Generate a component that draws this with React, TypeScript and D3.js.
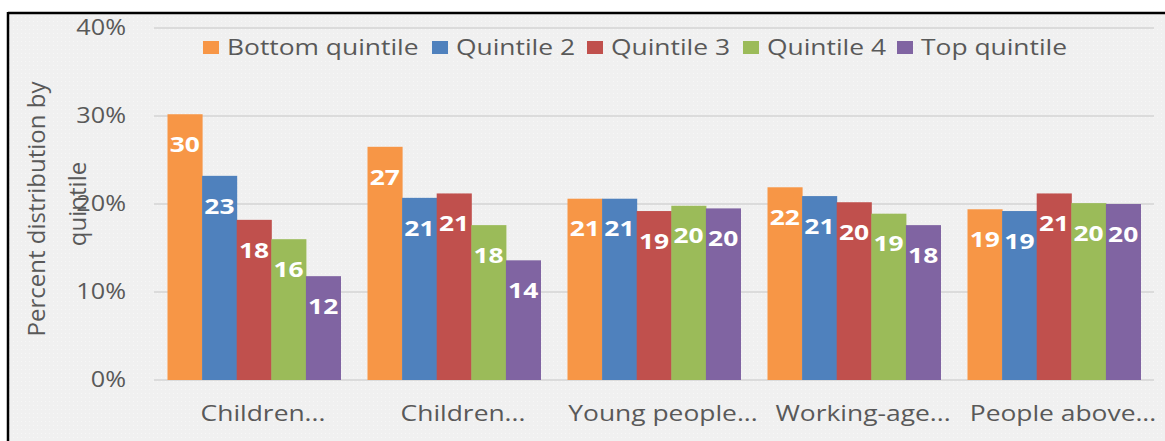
import React from "react";
import * as d3 from "d3";

const categories = ["Children...", "Children...", "Young people...", "Working-age...", "People above..."];
const seriesNames = ["Bottom quintile", "Quintile 2", "Quintile 3", "Quintile 4", "Top quintile"];
const seriesColors = ["#F79646", "#4F81BD", "#C0504D", "#9BBB59", "#8064A2"];
const bottomQuintile = [30.2, 26.5, 20.6, 21.9, 19.4];
const quintile2 = [23.2, 20.7, 20.6, 20.9, 19.2];
const quintile3 = [18.2, 21.2, 19.2, 20.2, 21.2];
const quintile4 = [16.0, 17.6, 19.8, 18.9, 20.1];
const topQuintile = [11.8, 13.6, 19.5, 17.6, 20.0];
const seriesValues = [bottomQuintile, quintile2, quintile3, quintile4, topQuintile];
const yTicks = [0, 10, 20, 30, 40];

const W = 1165;
const H = 441;
const FONT = "'Open Sans', 'Liberation Sans', sans-serif";
const TEXT = "#595959";
const SX = 1.2; // horizontal stretch of the reference image

function SText(props: { x: number; y: number; anchor?: string; size: number; fill: string; bold?: boolean; children: React.ReactNode }) {
  const { x, y, anchor = "start", size, fill, bold, children } = props;
  return (
    <g transform={`translate(${x},${y}) scale(${SX},1)`}>
      <text x={0} y={0} dy="0.35em" textAnchor={anchor as any} fontSize={size} fontWeight={bold ? "bold" : "normal"} fill={fill}>
        {children}
      </text>
    </g>
  );
}

export default function App() {
  const x0 = d3
    .scaleBand<string>()
    .domain(categories.map((_, i) => String(i)))
    .range([154, 1154])
    .paddingInner(0.135)
    .paddingOuter(0.0675);
  const x1 = d3.scaleBand<string>().domain(seriesNames).range([0, x0.bandwidth()]);
  const y = d3.scaleLinear().domain([0, 40]).range([380, 28]);

  const legendX = [203, 432, 587, 743, 897];

  return (
    <svg width={W} height={H} style={{ position: "absolute", left: 0, top: 0, display: "block" }} fontFamily={FONT}>
      <defs>
        <pattern id="dots" width="4" height="4" patternUnits="userSpaceOnUse">
          <rect width="4" height="4" fill="#f0f0f0" />
          <rect x="1" y="1" width="1" height="1" fill="#f7f7f7" />
        </pattern>
      </defs>
      <rect x={0} y={0} width={W} height={H} fill="#ffffff" />
      <rect x={8} y={13} width={W - 8} height={H - 13} fill="url(#dots)" />
      <line x1={8} x2={W} y1={13} y2={13} stroke="#000" strokeWidth={2.5} />
      <line x1={8} x2={8} y1={12} y2={H} stroke="#000" strokeWidth={2.5} />

      {yTicks.map((t) => (
        <g key={t}>
          <line x1={154} x2={1154} y1={y(t)} y2={y(t)} stroke="#d4d4d4" strokeWidth={1.3} />
          <SText x={126} y={y(t)} anchor="end" size={21} fill={TEXT}>
            {t}%
          </SText>
        </g>
      ))}

      {categories.map((c, ci) => (
        <g key={ci} transform={`translate(${x0(String(ci))},0)`}>
          {seriesNames.map((s, si) => {
            const v = seriesValues[si][ci];
            const bx = x1(s)!;
            const bw = x1.bandwidth();
            return (
              <g key={s}>
                <rect x={bx} y={y(v)} width={bw + 0.5} height={y(0) - y(v)} fill={seriesColors[si]} />
                <SText x={bx + bw / 2} y={y(v) + 30} anchor="middle" size={22} bold fill="#ffffff">
                  {Math.round(v)}
                </SText>
              </g>
            );
          })}
          <SText x={x0.bandwidth() / 2 + 9} y={413} anchor="middle" size={22} fill={TEXT}>
            {c}
          </SText>
        </g>
      ))}

      {seriesNames.map((s, si) => (
        <g key={s}>
          <rect x={legendX[si]} y={41} width={16} height={13} fill={seriesColors[si]} />
          <SText x={legendX[si] + 24} y={47} size={22} fill={TEXT}>
            {s}
          </SText>
        </g>
      ))}

      <g transform="translate(45,209) rotate(-90)">
        <text x={0} y={0} textAnchor="middle" fontSize={24} fill={TEXT}>
          Percent distribution by
        </text>
      </g>
      <g transform="translate(86,204) rotate(-90)">
        <text x={0} y={0} textAnchor="middle" fontSize={24} fill={TEXT}>
          quintile
        </text>
      </g>
    </svg>
  );
}
